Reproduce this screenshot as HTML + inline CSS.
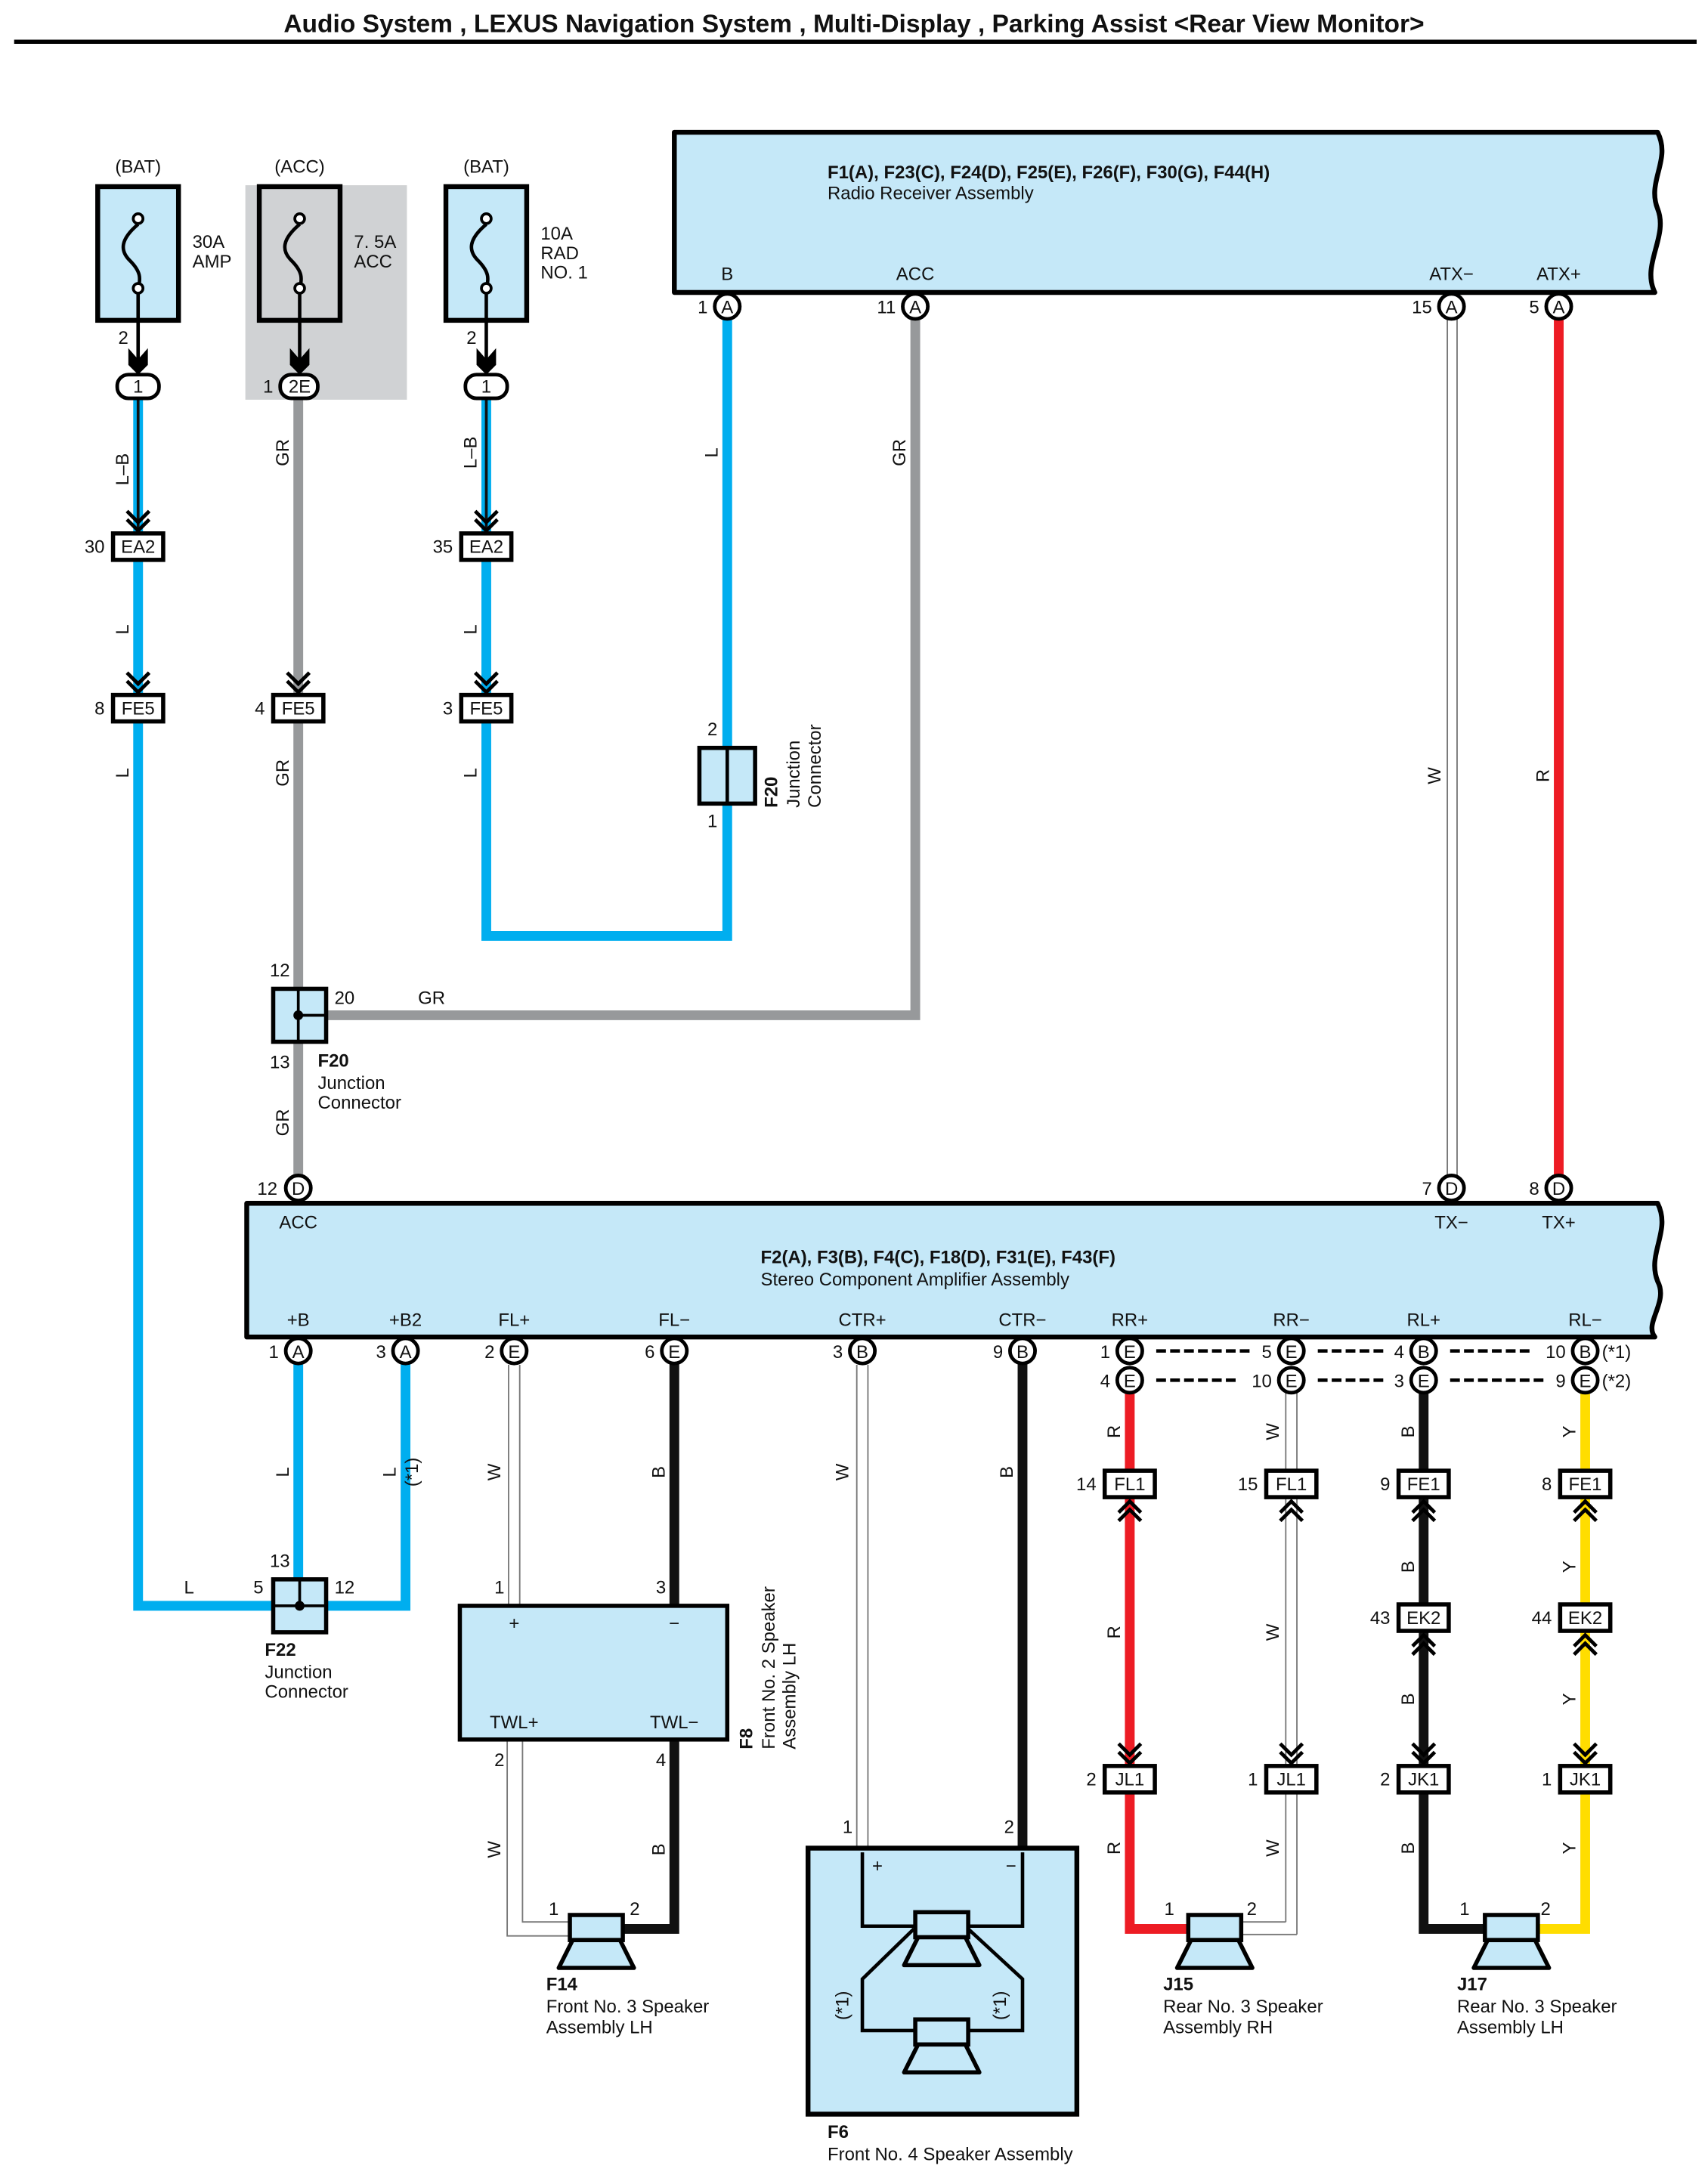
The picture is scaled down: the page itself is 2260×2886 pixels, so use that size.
<!DOCTYPE html>
<html><head><meta charset="utf-8"><style>
html,body{margin:0;padding:0;background:#fff}
svg{display:block}
text{font-family:"Liberation Sans",sans-serif;fill:#111}
</style></head><body>
<svg width="2260" height="2886" viewBox="0 0 1226 1566" xmlns="http://www.w3.org/2000/svg">
<defs>
<g id="cd"><path d="M-8,-9 L0,-1 L8,-9 M-8,-3 L0,5 L8,-3" fill="none" stroke="#000" stroke-width="2.6"/></g>
<g id="cu"><path d="M-8,9 L0,1 L8,9 M-8,3 L0,-5 L8,3" fill="none" stroke="#000" stroke-width="2.6"/></g>
<g id="spk"><rect x="-19" y="0" width="38" height="18" fill="#c5e8f8" stroke="#000" stroke-width="3"/><path d="M-17,18 L-27,38 L27,38 L17,18 Z" fill="#c5e8f8" stroke="#000" stroke-width="3" stroke-linejoin="round"/></g>
</defs>
<style>
.b{fill:none;stroke:#00aeef;stroke-width:7}
.g{fill:none;stroke:#97999b;stroke-width:7}
.k{fill:none;stroke:#111;stroke-width:7}
.r{fill:none;stroke:#ed1c24;stroke-width:7}
.y{fill:none;stroke:#ffdd00;stroke-width:7}
.w{fill:none;stroke:#777;stroke-width:1}
.t{font-size:13px}
.tb{font-size:13px;font-weight:bold}
.m{text-anchor:middle}
.e{text-anchor:end}
.pin{fill:#fff;stroke:#000;stroke-width:2.6}
.cb{fill:#fff;stroke:#000;stroke-width:3}
</style>
<!-- title -->
<text x="613" y="23" class="m" style="font-size:18.2px;font-weight:bold">Audio System , LEXUS Navigation System , Multi-Display , Parking Assist &lt;Rear View Monitor&gt;</text>
<line x1="10" y1="30" x2="1218" y2="30" stroke="#000" stroke-width="3"/>

<!-- ACC gray bg -->
<rect x="176" y="133" width="116" height="154" fill="#d0d2d4"/>

<!-- wires -->
<line x1="99" y1="285" x2="99" y2="382" class="b"/><line x1="99" y1="285" x2="99" y2="382" stroke="#111" stroke-width="2"/>
<polyline points="99,402 99,1153 215,1153" class="b"/>
<line x1="214" y1="285" x2="214" y2="853" class="g"/>
<polyline points="234,729 657,729 657,220" class="g"/>
<line x1="349" y1="285" x2="349" y2="382" class="b"/><line x1="349" y1="285" x2="349" y2="382" stroke="#111" stroke-width="2"/>
<polyline points="349,402 349,672 522,672 522,220" class="b"/>
<line x1="1039" y1="220" x2="1039" y2="853" class="w"/><line x1="1046" y1="220" x2="1046" y2="853" class="w"/>
<line x1="1119" y1="220" x2="1119" y2="853" class="r"/>
<line x1="214" y1="970" x2="214" y2="1153" class="b"/>
<polyline points="291,970 291,1153 230,1153" class="b"/>
<line x1="365" y1="980" x2="365" y2="1153" class="w"/><line x1="373" y1="980" x2="373" y2="1153" class="w"/>
<polyline points="364,1249 364,1390 410,1390" class="w"/><polyline points="375,1249 375,1380 410,1380" class="w"/>
<line x1="484" y1="970" x2="484" y2="1153" class="k"/>
<polyline points="484,1249 484,1385 446,1385" class="k"/>
<line x1="615" y1="980" x2="615" y2="1327" class="w"/><line x1="623" y1="980" x2="623" y2="1327" class="w"/>
<line x1="734" y1="970" x2="734" y2="1330" class="k"/>
<polyline points="811,991 811,1385 855,1385" class="r"/>
<line x1="923" y1="1000" x2="923" y2="1380" class="w"/><line x1="931" y1="1000" x2="931" y2="1389" class="w"/>
<polyline points="923,1380 890,1380" class="w"/><polyline points="931,1389 890,1389" class="w"/>
<polyline points="1022,991 1022,1385 1068,1385" class="k"/>
<polyline points="1138,991 1138,1385 1102,1385" class="y"/>

<!-- fuses -->
<g stroke="#000" stroke-width="3.5">
<rect x="70" y="134" width="58" height="96" fill="#c5e8f8"/>
<rect x="186" y="134" width="58" height="96" fill="#d0d2d4"/>
<rect x="320" y="134" width="58" height="96" fill="#c5e8f8"/>
</g>
<g fill="none" stroke="#000" stroke-width="2.5">
<path d="M99,161 C86,172 86,180 93,187 C101,195 101,200 99,207"/>
<path d="M215,161 C202,172 202,180 209,187 C217,195 217,200 215,207"/>
<path d="M349,161 C336,172 336,180 343,187 C351,195 351,200 349,207"/>
<line x1="99" y1="207" x2="99" y2="262"/><line x1="215" y1="207" x2="215" y2="262"/><line x1="349" y1="207" x2="349" y2="262"/>
</g>
<g fill="#fff" stroke="#000" stroke-width="2"><circle cx="99" cy="157" r="3.5"/><circle cx="99" cy="207" r="3.5"/><circle cx="215" cy="157" r="3.5"/><circle cx="215" cy="207" r="3.5"/><circle cx="349" cy="157" r="3.5"/><circle cx="349" cy="207" r="3.5"/></g>
<g fill="#000"><path d="M92,250 L99,258 L106,250 L106,262 L99,269 L92,262Z"/><path d="M208,250 L215,258 L222,250 L222,262 L215,269 L208,262Z"/><path d="M342,250 L349,258 L356,250 L356,262 L349,269 L342,262Z"/></g>
<text x="99" y="124" class="t m">(BAT)</text><text x="215" y="124" class="t m">(ACC)</text><text x="349" y="124" class="t m">(BAT)</text>
<text x="138" y="178" class="t">30A</text><text x="138" y="192" class="t">AMP</text>
<text x="254" y="178" class="t">7. 5A</text><text x="254" y="192" class="t">ACC</text>
<text x="388" y="172" class="t">10A</text><text x="388" y="186" class="t">RAD</text><text x="388" y="200" class="t">NO. 1</text>
<text x="92" y="247" class="t e">2</text><text x="342" y="247" class="t e">2</text>
<rect x="84" y="269" width="30" height="17" rx="8" class="pin"/><text x="99" y="282" class="t m">1</text>
<rect x="201" y="269" width="27" height="17" rx="8" class="pin"/><text x="215" y="282" class="t m">2E</text><text x="196" y="282" class="t e">1</text>
<rect x="334" y="269" width="30" height="17" rx="8" class="pin"/><text x="349" y="282" class="t m">1</text>

<!-- chevrons -->
<use href="#cd" x="99" y="376"/><use href="#cd" x="99" y="492"/><use href="#cd" x="214" y="492"/><use href="#cd" x="349" y="376"/><use href="#cd" x="349" y="492"/>
<use href="#cu" x="811" y="1083"/><use href="#cu" x="927" y="1083"/><use href="#cu" x="1022" y="1083"/><use href="#cu" x="1138" y="1083"/>
<use href="#cu" x="1022" y="1179"/><use href="#cu" x="1138" y="1179"/>
<use href="#cd" x="811" y="1261"/><use href="#cd" x="927" y="1261"/><use href="#cd" x="1022" y="1261"/><use href="#cd" x="1138" y="1261"/>

<!-- connector boxes -->
<g>
<rect x="81" y="383" width="36" height="19" class="cb"/><text x="99" y="397" class="t m">EA2</text><text x="75" y="397" class="t e">30</text>
<rect x="81" y="499" width="36" height="19" class="cb"/><text x="99" y="513" class="t m">FE5</text><text x="75" y="513" class="t e">8</text>
<rect x="196" y="499" width="36" height="19" class="cb"/><text x="214" y="513" class="t m">FE5</text><text x="190" y="513" class="t e">4</text>
<rect x="331" y="383" width="36" height="19" class="cb"/><text x="349" y="397" class="t m">EA2</text><text x="325" y="397" class="t e">35</text>
<rect x="331" y="499" width="36" height="19" class="cb"/><text x="349" y="513" class="t m">FE5</text><text x="325" y="513" class="t e">3</text>
<rect x="793" y="1056" width="36" height="19" class="cb"/><text x="811" y="1070" class="t m">FL1</text><text x="787" y="1070" class="t e">14</text>
<rect x="909" y="1056" width="36" height="19" class="cb"/><text x="927" y="1070" class="t m">FL1</text><text x="903" y="1070" class="t e">15</text>
<rect x="1004" y="1056" width="36" height="19" class="cb"/><text x="1022" y="1070" class="t m">FE1</text><text x="998" y="1070" class="t e">9</text>
<rect x="1120" y="1056" width="36" height="19" class="cb"/><text x="1138" y="1070" class="t m">FE1</text><text x="1114" y="1070" class="t e">8</text>
<rect x="1004" y="1152" width="36" height="19" class="cb"/><text x="1022" y="1166" class="t m">EK2</text><text x="998" y="1166" class="t e">43</text>
<rect x="1120" y="1152" width="36" height="19" class="cb"/><text x="1138" y="1166" class="t m">EK2</text><text x="1114" y="1166" class="t e">44</text>
<rect x="793" y="1268" width="36" height="19" class="cb"/><text x="811" y="1282" class="t m">JL1</text><text x="787" y="1282" class="t e">2</text>
<rect x="909" y="1268" width="36" height="19" class="cb"/><text x="927" y="1282" class="t m">JL1</text><text x="903" y="1282" class="t e">1</text>
<rect x="1004" y="1268" width="36" height="19" class="cb"/><text x="1022" y="1282" class="t m">JK1</text><text x="998" y="1282" class="t e">2</text>
<rect x="1120" y="1268" width="36" height="19" class="cb"/><text x="1138" y="1282" class="t m">JK1</text><text x="1114" y="1282" class="t e">1</text>
</g>

<!-- radio receiver -->
<path d="M484,95 L1190,95 C1200,115 1182,130 1190,150 C1198,170 1178,190 1188,210 L484,210 Z" fill="#c5e8f8" stroke="#000" stroke-width="3.5" stroke-linejoin="round"/>
<text x="594" y="128" class="tb">F1(A), F23(C), F24(D), F25(E), F26(F), F30(G), F44(H)</text>
<text x="594" y="143" class="t">Radio Receiver Assembly</text>
<text x="522" y="201" class="t m">B</text><text x="657" y="201" class="t m">ACC</text><text x="1042" y="201" class="t m">ATX−</text><text x="1119" y="201" class="t m">ATX+</text>
<circle cx="522" cy="220" r="9" class="pin"/><text x="522" y="225" class="t m">A</text><text x="508" y="225" class="t e">1</text>
<circle cx="657" cy="220" r="9" class="pin"/><text x="657" y="225" class="t m">A</text><text x="643" y="225" class="t e">11</text>
<circle cx="1042" cy="220" r="9" class="pin"/><text x="1042" y="225" class="t m">A</text><text x="1028" y="225" class="t e">15</text>
<circle cx="1119" cy="220" r="9" class="pin"/><text x="1119" y="225" class="t m">A</text><text x="1105" y="225" class="t e">5</text>

<!-- F20 vertical junction -->
<rect x="502" y="537" width="40" height="40" fill="#c5e8f8" stroke="#000" stroke-width="3"/>
<line x1="522" y1="537" x2="522" y2="577" stroke="#000" stroke-width="2.5"/>
<text x="515" y="528" class="t e">2</text><text x="515" y="594" class="t e">1</text>
<g transform="translate(558,580) rotate(-90)"><text class="tb">F20</text></g>
<g transform="translate(574,580) rotate(-90)"><text class="t">Junction</text></g>
<g transform="translate(589,580) rotate(-90)"><text class="t">Connector</text></g>

<!-- F20 junction -->
<rect x="196" y="710" width="38" height="38" fill="#c5e8f8" stroke="#000" stroke-width="3"/>
<line x1="214" y1="710" x2="214" y2="748" stroke="#000" stroke-width="2"/><line x1="214" y1="729" x2="234" y2="729" stroke="#000" stroke-width="2"/>
<circle cx="214" cy="729" r="3.5" fill="#000"/>
<text x="208" y="701" class="t e">12</text><text x="240" y="721" class="t">20</text><text x="208" y="767" class="t e">13</text>
<text x="300" y="721" class="t">GR</text>
<text x="228" y="766" class="tb">F20</text><text x="228" y="782" class="t">Junction</text><text x="228" y="796" class="t">Connector</text>

<!-- amplifier -->
<path d="M177,864 L1190,864 C1200,884 1182,900 1190,920 C1198,935 1180,950 1188,960 L177,960 Z" fill="#c5e8f8" stroke="#000" stroke-width="3.5" stroke-linejoin="round"/>
<circle cx="214" cy="853" r="9" class="pin"/><text x="214" y="858" class="t m">D</text><text x="199" y="858" class="t e">12</text>
<circle cx="1042" cy="853" r="9" class="pin"/><text x="1042" y="858" class="t m">D</text><text x="1028" y="858" class="t e">7</text>
<circle cx="1119" cy="853" r="9" class="pin"/><text x="1119" y="858" class="t m">D</text><text x="1105" y="858" class="t e">8</text>
<text x="214" y="882" class="t m">ACC</text><text x="1042" y="882" class="t m">TX−</text><text x="1119" y="882" class="t m">TX+</text>
<text x="546" y="907" class="tb">F2(A), F3(B), F4(C), F18(D), F31(E), F43(F)</text>
<text x="546" y="923" class="t">Stereo Component Amplifier Assembly</text>
<g>
<text x="214" y="952" class="t m">+B</text><text x="291" y="952" class="t m">+B2</text><text x="369" y="952" class="t m">FL+</text><text x="484" y="952" class="t m">FL−</text>
<text x="619" y="952" class="t m">CTR+</text><text x="734" y="952" class="t m">CTR−</text><text x="811" y="952" class="t m">RR+</text><text x="927" y="952" class="t m">RR−</text>
<text x="1022" y="952" class="t m">RL+</text><text x="1138" y="952" class="t m">RL−</text>
</g>
<g stroke="#000" stroke-width="2.5" stroke-dasharray="7,3">
<line x1="830" y1="970" x2="898" y2="970"/><line x1="946" y1="970" x2="995" y2="970"/><line x1="1041" y1="970" x2="1100" y2="970"/>
<line x1="830" y1="991" x2="890" y2="991"/><line x1="946" y1="991" x2="995" y2="991"/><line x1="1041" y1="991" x2="1110" y2="991"/>
</g>
<g>
<circle cx="214" cy="970" r="9" class="pin"/><text x="214" y="975" class="t m">A</text><text x="200" y="975" class="t e">1</text>
<circle cx="291" cy="970" r="9" class="pin"/><text x="291" y="975" class="t m">A</text><text x="277" y="975" class="t e">3</text>
<circle cx="369" cy="970" r="9" class="pin"/><text x="369" y="975" class="t m">E</text><text x="355" y="975" class="t e">2</text>
<circle cx="484" cy="970" r="9" class="pin"/><text x="484" y="975" class="t m">E</text><text x="470" y="975" class="t e">6</text>
<circle cx="619" cy="970" r="9" class="pin"/><text x="619" y="975" class="t m">B</text><text x="605" y="975" class="t e">3</text>
<circle cx="734" cy="970" r="9" class="pin"/><text x="734" y="975" class="t m">B</text><text x="720" y="975" class="t e">9</text>
<circle cx="811" cy="970" r="9" class="pin"/><text x="811" y="975" class="t m">E</text><text x="797" y="975" class="t e">1</text>
<circle cx="927" cy="970" r="9" class="pin"/><text x="927" y="975" class="t m">E</text><text x="913" y="975" class="t e">5</text>
<circle cx="1022" cy="970" r="9" class="pin"/><text x="1022" y="975" class="t m">B</text><text x="1008" y="975" class="t e">4</text>
<circle cx="1138" cy="970" r="9" class="pin"/><text x="1138" y="975" class="t m">B</text><text x="1124" y="975" class="t e">10</text><text x="1150" y="975" class="t">(*1)</text>
<circle cx="811" cy="991" r="9" class="pin"/><text x="811" y="996" class="t m">E</text><text x="797" y="996" class="t e">4</text>
<circle cx="927" cy="991" r="9" class="pin"/><text x="927" y="996" class="t m">E</text><text x="913" y="996" class="t e">10</text>
<circle cx="1022" cy="991" r="9" class="pin"/><text x="1022" y="996" class="t m">E</text><text x="1008" y="996" class="t e">3</text>
<circle cx="1138" cy="991" r="9" class="pin"/><text x="1138" y="996" class="t m">E</text><text x="1124" y="996" class="t e">9</text><text x="1150" y="996" class="t">(*2)</text>
</g>

<!-- F22 -->
<rect x="196" y="1134" width="38" height="38" fill="#c5e8f8" stroke="#000" stroke-width="3"/>
<line x1="215" y1="1134" x2="215" y2="1153" stroke="#000" stroke-width="2"/><line x1="196" y1="1153" x2="234" y2="1153" stroke="#000" stroke-width="2"/>
<circle cx="215" cy="1153" r="3.5" fill="#000"/>
<text x="208" y="1125" class="t e">13</text><text x="189" y="1144" class="t e">5</text><text x="240" y="1144" class="t">12</text>
<text x="132" y="1144" class="t">L</text>
<text x="190" y="1189" class="tb">F22</text><text x="190" y="1205" class="t">Junction</text><text x="190" y="1219" class="t">Connector</text>

<!-- F8 -->
<rect x="330" y="1153" width="192" height="96" fill="#c5e8f8" stroke="#000" stroke-width="3"/>
<text x="369" y="1170" class="t m">+</text><text x="484" y="1170" class="t m">−</text>
<text x="369" y="1241" class="t m">TWL+</text><text x="484" y="1241" class="t m">TWL−</text>
<text x="362" y="1144" class="t e">1</text><text x="478" y="1144" class="t e">3</text><text x="362" y="1268" class="t e">2</text><text x="478" y="1268" class="t e">4</text>
<g transform="translate(540,1256) rotate(-90)"><text class="tb">F8</text></g>
<g transform="translate(556,1256) rotate(-90)"><text class="t">Front No. 2 Speaker</text></g>
<g transform="translate(571,1256) rotate(-90)"><text class="t">Assembly LH</text></g>

<!-- F6 -->
<rect x="580" y="1327" width="193" height="191" fill="#c5e8f8" stroke="#000" stroke-width="3.5"/>
<g fill="none" stroke="#000" stroke-width="2.5">
<polyline points="619,1330 619,1383 656,1383"/><polyline points="734,1330 734,1383 695,1383"/>
<polyline points="656,1385 619,1421 619,1458 656,1458"/><polyline points="695,1385 734,1421 734,1458 695,1458"/>
</g>
<use href="#spk" x="676" y="1373"/><use href="#spk" x="676" y="1450"/>
<text x="626" y="1344" class="t">+</text><text x="722" y="1344" class="t">−</text>
<text x="612" y="1316" class="t e">1</text><text x="728" y="1316" class="t e">2</text>
<g transform="translate(609,1440) rotate(-90)"><text class="t m">(*1)</text></g>
<g transform="translate(722,1440) rotate(-90)"><text class="t m">(*1)</text></g>
<text x="594" y="1535" class="tb">F6</text><text x="594" y="1551" class="t">Front No. 4 Speaker Assembly</text>

<!-- speakers -->
<use href="#spk" x="428" y="1375"/><text x="401" y="1375" class="t e">1</text><text x="452" y="1375" class="t">2</text>
<text x="392" y="1429" class="tb">F14</text><text x="392" y="1445" class="t">Front No. 3 Speaker</text><text x="392" y="1460" class="t">Assembly LH</text>
<use href="#spk" x="872" y="1375"/><text x="843" y="1375" class="t e">1</text><text x="895" y="1375" class="t">2</text>
<text x="835" y="1429" class="tb">J15</text><text x="835" y="1445" class="t">Rear No. 3 Speaker</text><text x="835" y="1460" class="t">Assembly RH</text>
<use href="#spk" x="1085" y="1375"/><text x="1055" y="1375" class="t e">1</text><text x="1106" y="1375" class="t">2</text>
<text x="1046" y="1429" class="tb">J17</text><text x="1046" y="1445" class="t">Rear No. 3 Speaker</text><text x="1046" y="1460" class="t">Assembly LH</text>

<!-- rotated wire labels -->
<g>
<g transform="translate(92,337) rotate(-90)"><text class="t m">L–B</text></g>
<g transform="translate(92,452) rotate(-90)"><text class="t m">L</text></g>
<g transform="translate(92,555) rotate(-90)"><text class="t m">L</text></g>
<g transform="translate(207,325) rotate(-90)"><text class="t m">GR</text></g>
<g transform="translate(207,555) rotate(-90)"><text class="t m">GR</text></g>
<g transform="translate(207,806) rotate(-90)"><text class="t m">GR</text></g>
<g transform="translate(342,325) rotate(-90)"><text class="t m">L–B</text></g>
<g transform="translate(342,452) rotate(-90)"><text class="t m">L</text></g>
<g transform="translate(342,555) rotate(-90)"><text class="t m">L</text></g>
<g transform="translate(515,325) rotate(-90)"><text class="t m">L</text></g>
<g transform="translate(650,325) rotate(-90)"><text class="t m">GR</text></g>
<g transform="translate(1034,557) rotate(-90)"><text class="t m">W</text></g>
<g transform="translate(1112,557) rotate(-90)"><text class="t m">R</text></g>
<g transform="translate(207,1057) rotate(-90)"><text class="t m">L</text></g>
<g transform="translate(284,1057) rotate(-90)"><text class="t m">L</text></g>
<g transform="translate(300,1057) rotate(-90)"><text class="t m">(*1)</text></g>
<g transform="translate(359,1057) rotate(-90)"><text class="t m">W</text></g>
<g transform="translate(477,1057) rotate(-90)"><text class="t m">B</text></g>
<g transform="translate(609,1057) rotate(-90)"><text class="t m">W</text></g>
<g transform="translate(727,1057) rotate(-90)"><text class="t m">B</text></g>
<g transform="translate(359,1328) rotate(-90)"><text class="t m">W</text></g>
<g transform="translate(477,1328) rotate(-90)"><text class="t m">B</text></g>
<g transform="translate(804,1028) rotate(-90)"><text class="t m">R</text></g>
<g transform="translate(918,1028) rotate(-90)"><text class="t m">W</text></g>
<g transform="translate(1015,1028) rotate(-90)"><text class="t m">B</text></g>
<g transform="translate(1131,1028) rotate(-90)"><text class="t m">Y</text></g>
<g transform="translate(804,1172) rotate(-90)"><text class="t m">R</text></g>
<g transform="translate(918,1172) rotate(-90)"><text class="t m">W</text></g>
<g transform="translate(1015,1125) rotate(-90)"><text class="t m">B</text></g>
<g transform="translate(1131,1125) rotate(-90)"><text class="t m">Y</text></g>
<g transform="translate(1015,1220) rotate(-90)"><text class="t m">B</text></g>
<g transform="translate(1131,1220) rotate(-90)"><text class="t m">Y</text></g>
<g transform="translate(804,1327) rotate(-90)"><text class="t m">R</text></g>
<g transform="translate(918,1327) rotate(-90)"><text class="t m">W</text></g>
<g transform="translate(1015,1327) rotate(-90)"><text class="t m">B</text></g>
<g transform="translate(1131,1327) rotate(-90)"><text class="t m">Y</text></g>
</g>
</svg>
</body></html>
